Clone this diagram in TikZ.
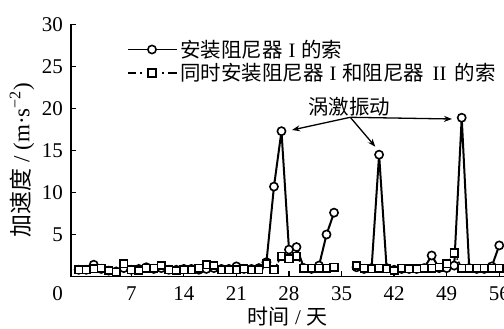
\documentclass[tikz,border=0pt]{standalone}
\usepackage{fontspec}
\setmainfont{Liberation Serif}
\newfontfamily\cjk{Noto Sans CJK SC}
\usetikzlibrary{arrows.meta,plotmarks}
\newcommand{\romI}{{\rmfamily\makebox[0.9em]{I}}}
\newcommand{\romII}{{\rmfamily\makebox[1.5em]{II}}}
\tikzset{
 sone/.style={line width=2pt, black, mark=*, mark size=4.1pt,
   mark options={fill=white, draw=black, line width=1.6pt, solid}},
 stwo/.style={line width=1.5pt, black, dash pattern=on 6pt off 2pt on 1.5pt off 2pt,
   mark=square*, mark size=3.7pt,
   mark options={fill=white, draw=black, line width=1.7pt, solid}},
 axline/.style={line width=1.3pt, black},
 ticklab/.style={font=\fontsize{21}{24}\selectfont, inner sep=0pt},
 axlab/.style={font=\fontsize{21}{26}\selectfont, inner sep=0pt},
 legtxt/.style={font=\fontsize{20.5}{24}\selectfont\cjk, inner sep=0pt, anchor=west},
 anntxt/.style={font=\fontsize{20.5}{24}\selectfont\cjk, inner sep=0pt},
 annarrow/.style={-{Stealth[length=8pt,width=6pt]}, line width=1.3pt},
 circmark/.style={circle, draw=black, fill=white, line width=1.6pt, minimum size=8.2pt, inner sep=0pt},
 sqmark/.style={rectangle, draw=black, fill=white, line width=1.7pt, minimum size=7.4pt, inner sep=0pt},
}
\begin{document}
\begin{tikzpicture}[x=1pt,y=1pt]
\useasboundingbox (0,0) rectangle (504,329);
\begin{scope}[shift={(78.7pt,52.5pt)}, x=7.51pt, y=8.4pt]
 % axes
 \coordinate (ytop) at (-1.025,30);
 \coordinate (orig) at (-1.025,0);
 \coordinate (xend) at (57,0);
 \draw[axline] (ytop) -- (orig) -- (xend);
 \foreach \v in {5,10,...,30} {
   \draw[axline] (-1.025,\v) -- ++(5pt,0);
   \node[ticklab, anchor=east] (yl\v) at ([xshift=-8pt]-1.025,\v) {\v};
 }
 \foreach \d in {7,14,...,56} {
   \draw[axline] (\d,0) -- ++(0,5pt);
   \node[ticklab] (xl\d) at ([yshift=-17pt]\d,0) {\d};
 }
 \node[ticklab, anchor=east] (xl0) at ([xshift=-8pt,yshift=-17pt]-1.025,0) {0};
 % series 1
 \draw[sone] plot coordinates {(0,0.8) (1,0.8) (2,1.4) (3,0.9) (4,0.7) (5,0.6) (6,1.0) (7,0.8) (8,0.9) (9,1.1) (10,0.9) (11,1.0) (12,0.8) (13,0.8) (14,0.9) (15,0.9) (16,0.8) (17,0.9) (18,1.0) (19,0.9) (20,0.9) (21,1.2) (22,0.9) (23,0.9) (24,1.0) (25,1.7) (26,10.7) (27,17.3) (28,3.2) (29,3.5) (30,1.0) (31,0.9) (32,1.3) (33,5.0) (34,7.6)};
 \draw[sone] plot coordinates {(37,1.1) (38,0.9) (39,1.0) (40,14.5) (41,1.0) (42,0.8) (43,0.9) (44,0.9) (45,0.9) (46,1.0) (47,2.5) (48,1.0) (49,1.0) (50,1.3) (51,18.9) (52,1.0) (53,0.9) (54,0.9) (55,1.2) (56,3.7)};
 % series 2
 \draw[stwo] plot coordinates {(0,0.8) (1,0.8) (2,0.9) (3,1.0) (4,0.7) (5,0.5) (6,1.5) (7,0.8) (8,0.7) (9,1.0) (10,1.0) (11,1.3) (12,0.8) (13,0.7) (14,0.8) (15,0.8) (16,1.0) (17,1.4) (18,1.3) (19,0.8) (20,0.8) (21,0.8) (22,0.9) (23,0.8) (24,0.8) (25,1.5) (26,0.8) (27,2.4) (28,2.1) (29,2.4) (30,1.0) (31,1.0) (32,1.0) (33,1.0) (34,1.1)};
 \draw[stwo] plot coordinates {(37,1.3) (38,1.0) (39,0.9) (40,1.0) (41,0.9) (42,0.7) (43,1.0) (44,0.9) (45,0.9) (46,1.0) (47,1.0) (48,1.1) (49,1.5) (50,2.8) (51,1.0) (52,1.0) (53,1.0) (54,1.0) (55,1.0) (56,1.0) (57,1.0)};
\end{scope}
% legend
\coordinate (la1) at (128,279.5);
\coordinate (lb1) at (177,279.5);
\draw[line width=1.8pt] (la1) -- (lb1);
\node[circmark] (lm1) at (152,279.5) {};
\node[legtxt] (leg1) at (180,279.5) {安装阻尼器\romI 的索};
\draw[line width=1.7pt] (128,256) -- (136,256);
\draw[line width=1.7pt] (140,256) -- (142,256);
\draw[line width=1.7pt] (162,256) -- (164,256);
\draw[line width=1.7pt] (168,256) -- (177,256);
\node[sqmark] (lm2) at (152,256) {};
\node[legtxt] (leg2) at (180,256) {同时安装阻尼器\romI 和阻尼器\romII 的索};
% annotation
\node[anntxt] (vort) at (349,222) {涡激振动};
\coordinate (src) at (350.3,211.7);
\coordinate (tA) at (292,199);
\coordinate (tB) at (452,210);
\coordinate (tC) at (375.3,182.3);
\draw[annarrow] (src) -- (tA);
\draw[annarrow] (src) -- (tB);
\draw[annarrow] (src) -- (tC);
% axis labels
\node[axlab, rotate=90] (ylab) at (22,169) {{\fontsize{23}{26}\selectfont{\cjk 加速度} / (m·s\textsuperscript{−2})}};
\node[axlab] (xlab) at (287.5,12) {{\cjk 时间} / {\cjk 天}};
\end{tikzpicture}
\end{document}
